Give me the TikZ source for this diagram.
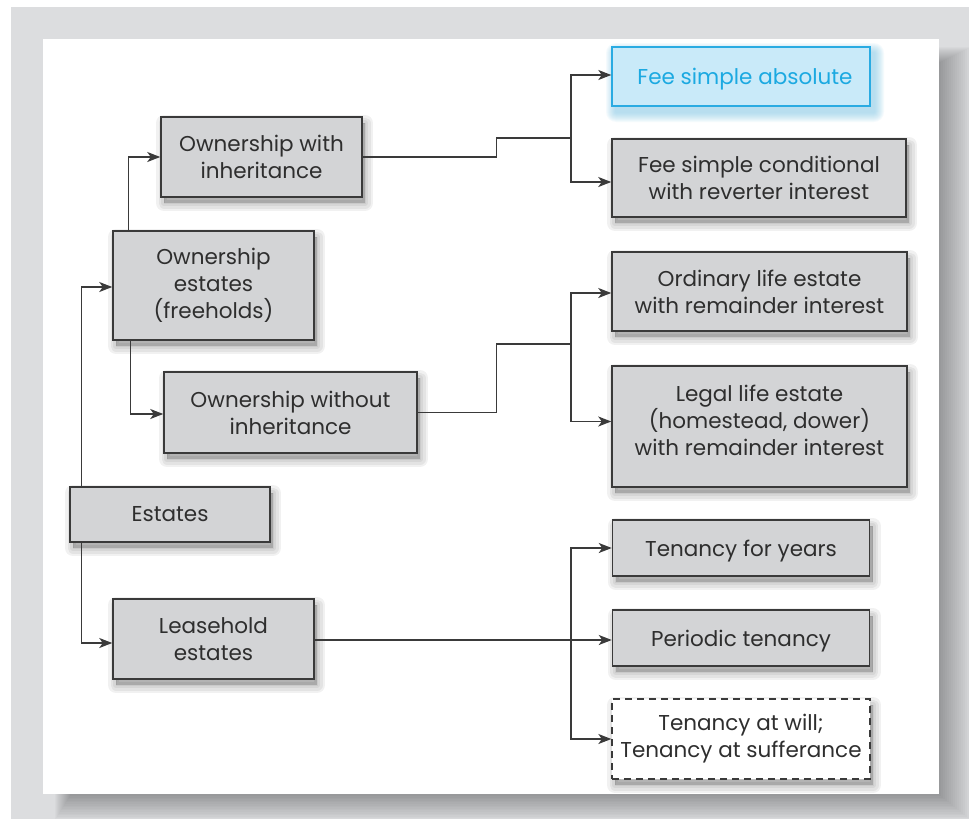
\documentclass[tikz,border=0pt]{standalone}
\usepackage{fontspec}
\setmainfont{Poppins}
\usetikzlibrary{arrows.meta}

\definecolor{pagegrey}{HTML}{DCDDDF}
\definecolor{boxgrey}{HTML}{D3D4D6}
\definecolor{edge}{HTML}{3A3A3A}
\definecolor{ink}{HTML}{2E2E2E}
\definecolor{hlfill}{HTML}{C9EAF9}
\definecolor{hledge}{HTML}{2AABE2}
\definecolor{hlink}{HTML}{1BA9E1}
\definecolor{hlglow}{HTML}{7CC6E6}

\newcommand{\lowered}[1]{\raisebox{-3pt}[\height][\depth]{#1}}

\begin{document}
\begin{tikzpicture}[x=1pt,y=-1pt,
  font=\fontsize{21.5}{27}\selectfont,
  shadowlayer/.style={preaction={draw=black, fill=black, opacity=0.055,
    line join=round, line width=#1, dash pattern=,
    transform canvas={xshift=3pt, yshift=-6pt}}},
  softshadow/.style={shadowlayer=16pt, shadowlayer=11pt, shadowlayer=6pt,
    shadowlayer=1pt},
  estate/.style={draw=edge, fill=boxgrey, text=ink, line width=1.5pt,
    align=center, inner sep=0pt, softshadow},
  highlight/.style={draw=hledge, fill=hlfill, text=hlink, line width=1.4pt,
    align=center, inner sep=0pt},
  lesser/.style={estate, fill=white, dash pattern=on 7pt off 5pt,
    line width=1.3pt},
  conn/.style={draw=edge, line width=1.4pt},
  arr/.style={conn, -{Stealth[length=13pt,width=10pt,inset=3.5pt]}}]

% page and backdrop
\useasboundingbox (0,0) rectangle (969,819);
\fill[white] (0,0) rectangle (969,819);
\fill[pagegrey] (11,7) rectangle (969,819);

% soft shadow falling right and below the panel
\foreach \g in {0,...,15}
  \fill[black, opacity=0.019] (70-\g,62-\g) rectangle (941+2*\g,796+1.6*\g);

% white panel
\fill[white] (43,39) rectangle (939,794);

% soft blue glow under the highlighted box
\foreach \g in {1,...,10}
  \fill[hlglow, opacity=0.07, rounded corners=\g pt]
    (612+4-\g,47+6-\g) rectangle (870+4+\g,106+6+\g);

% estate boxes
\node[highlight, minimum width=258pt, minimum height=59pt] (fsa) at (741,76.5) {\hspace*{8pt}\lowered{Fee simple absolute}};
\node[estate, minimum width=294pt, minimum height=78pt] (fsc) at (759,178) {Fee simple conditional\\with reverter interest};
\node[estate, minimum width=201pt, minimum height=80pt] (owi) at (261.5,157) {Ownership with\\inheritance};
\node[estate, minimum width=201pt, minimum height=109pt] (oe) at (213.5,285.5) {Ownership\\estates\\(freeholds)};
\node[estate, minimum width=253pt, minimum height=81pt] (owo) at (290.5,412.5) {Ownership without\\inheritance};
\node[estate, minimum width=295pt, minimum height=79pt] (ole) at (759.5,291.5) {Ordinary life estate\\with remainder interest};
\node[estate, minimum width=295pt, minimum height=121pt] (lle) at (759.5,426.5) {Legal life estate\\(homestead, dower)\\with remainder interest\\[-22pt]\strut};
\node[estate, minimum width=200pt, minimum height=55pt] (est) at (170,514.5) {Estates};
\node[estate, minimum width=201pt, minimum height=80pt] (lh) at (213.5,639) {Leasehold\\estates};
\node[estate, minimum width=257pt, minimum height=56pt] (tfy) at (741,548) {\lowered{Tenancy for years}};
\node[estate, minimum width=257pt, minimum height=56pt] (pt) at (741,638) {\lowered{Periodic tenancy}};
\node[lesser, minimum width=258pt, minimum height=80pt] (taw) at (741,739) {Tenancy at will;\\Tenancy at sufferance};

% branch points
\coordinate (j1) at (571,138);
\coordinate (j2) at (571,344);
\coordinate (j3) at (571,640);

% connectors
\draw[arr] ([xshift=12pt]est.north west) |- ([yshift=-1.5pt]oe.west);
\draw[arr] ([xshift=12pt]est.south west) |- ([yshift=-4pt]lh.west);
\draw[arr] ([xshift=16pt]oe.north west) |- (owi.west);
\draw[arr] ([xshift=18pt]oe.south west) |- ([yshift=-1.5pt]owo.west);

\draw[conn] (owi.east) -- ++(134,0) |- (j1);
\draw[arr] (j1) |- ([yshift=1.5pt]fsa.west);
\draw[arr] (j1) |- ([yshift=-4pt]fsc.west);

\draw[conn] (owo.east) -- ++(79,0) |- (j2);
\draw[arr] (j2) |- ([yshift=-1.5pt]ole.west);
\draw[arr] (j2) |- ([yshift=5pt]lle.west);

\draw[arr] ([yshift=-1pt]lh.east) -- (pt.west |- j3);
\draw[arr] (j3) |- (tfy.west);
\draw[arr] (j3) |- (taw.west);
\end{tikzpicture}
\end{document}
